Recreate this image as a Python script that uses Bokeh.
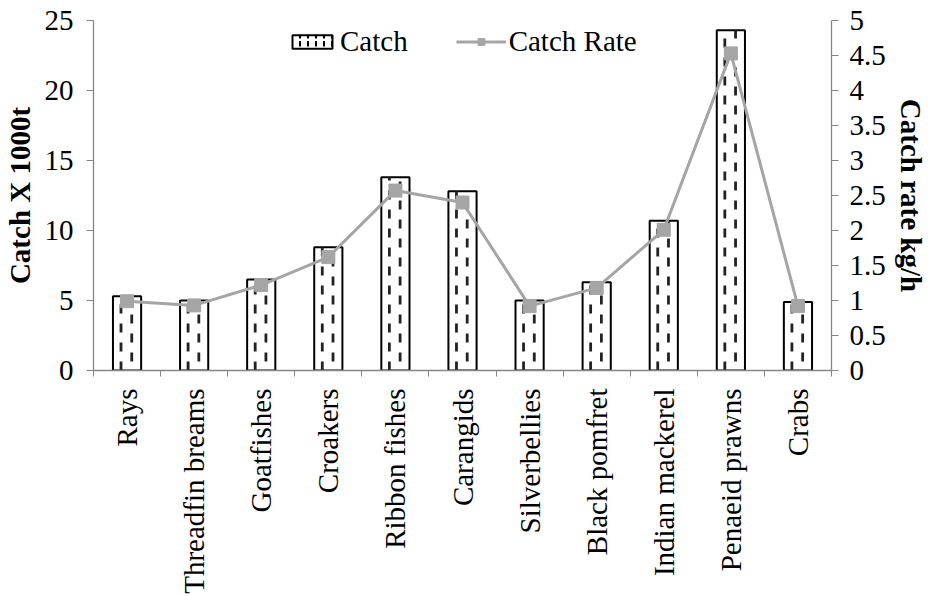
import math

from bokeh.embed import file_html
from bokeh.resources import INLINE
from bokeh.plotting import figure
from bokeh.models import (ColumnDataSource, Range1d, LinearAxis, FixedTicker,
                          Legend, LegendItem)

# Landings by species group
categories = ["Rays", "Threadfin breams", "Goatfishes", "Croakers", "Ribbon fishes",
              "Carangids", "Silverbellies", "Black pomfret", "Indian mackerel",
              "Penaeid prawns", "Crabs"]
catch_t1000 = [5.3, 5.0, 6.5, 8.8, 13.8, 12.8, 5.0, 6.3, 10.7, 24.3, 4.9]
catch_rate = [0.99, 0.93, 1.22, 1.62, 2.57, 2.40, 0.92, 1.18, 2.01, 4.53, 0.92]

left_ticks = [0, 5, 10, 15, 20, 25]
right_ticks = [0, 0.5, 1, 1.5, 2, 2.5, 3, 3.5, 4, 4.5, 5]

FONT = "Liberation Serif"
FONT_SIZE = "29px"
AXIS_GREY = "#868686"
LINE_GREY = "#A5A5A5"

idx = list(range(len(categories)))
src = ColumnDataSource(data=dict(
    x=idx,
    xl=[i - 0.09 for i in idx],
    xr=[i + 0.07 for i in idx],
    zero=[0] * len(idx),
    catch=catch_t1000,
    rate=catch_rate,
))

p = figure(width=933, height=596, output_backend="svg", toolbar_location=None,
           x_range=Range1d(-0.5, len(categories) - 0.5), y_range=Range1d(0, 25),
           min_border_left=93, min_border_right=102, min_border_top=20,
           min_border_bottom=225)
p.outline_line_color = None
p.xgrid.visible = False
p.ygrid.visible = False
p.background_fill_color = "white"
p.border_fill_color = "white"

p.extra_y_ranges = {"rate": Range1d(0, 5)}

# bars: white boxes with two staggered dashed strokes
p.vbar(x="x", top="catch", width=0.42, source=src, fill_color="white",
       line_color="black", line_width=2)
p.segment(x0="xl", y0="zero", x1="xl", y1="catch", source=src, line_color="#222222",
          line_width=2.8, line_dash="9 10")
p.segment(x0="xr", y0="zero", x1="xr", y1="catch", source=src, line_color="#222222",
          line_width=2.8, line_dash="9 10", line_dash_offset=10)

# hidden copy of the bars, used only for the legend swatch
swatch = p.vbar(x="x", top="catch", width=0.42, source=src, fill_color="white",
                line_color="black", line_width=2, hatch_pattern="vertical_dash",
                hatch_color="black", hatch_scale=8, hatch_weight=2)
swatch.visible = False

# catch rate on the secondary axis
rate_line = p.line(x="x", y="rate", source=src, y_range_name="rate",
                   line_color=LINE_GREY, line_width=3)
rate_pts = p.scatter(x="x", y="rate", source=src, y_range_name="rate",
                     marker="square", size=13, fill_color=LINE_GREY,
                     line_color=LINE_GREY)

# x axis: labels at category centres, ticks on category boundaries
xa = p.xaxis[0]
xa.ticker = FixedTicker(ticks=idx, minor_ticks=[i - 0.5 for i in range(len(idx) + 1)])
xa.major_label_overrides = {i: c for i, c in enumerate(categories)}
xa.major_label_orientation = math.pi / 2
xa.major_tick_out = 0
xa.major_tick_in = 0
xa.minor_tick_out = 6
xa.minor_tick_in = 0
xa.major_label_standoff = 12

ya = p.yaxis[0]
ya.ticker = FixedTicker(ticks=left_ticks, minor_ticks=[])
ya.axis_label = "Catch X 1000t"
ya.major_tick_out = 7
ya.major_tick_in = 0
ya.minor_tick_out = 0
ya.minor_tick_in = 0
ya.major_label_standoff = 13
ya.axis_label_standoff = 6

ra = LinearAxis(y_range_name="rate", ticker=FixedTicker(ticks=right_ticks, minor_ticks=[]),
                axis_label="Catch rate kg/h")
ra.major_tick_out = 7
ra.major_tick_in = 0
ra.minor_tick_out = 0
ra.minor_tick_in = 0
ra.major_label_standoff = 11
ra.axis_label_standoff = 6
p.add_layout(ra, "right")

for ax in (xa, ya, ra):
    ax.axis_line_color = AXIS_GREY
    ax.axis_line_width = 1.3
    ax.major_tick_line_color = AXIS_GREY
    ax.minor_tick_line_color = AXIS_GREY
    ax.major_label_text_font = FONT
    ax.major_label_text_font_size = FONT_SIZE
    ax.major_label_text_color = "black"
    ax.axis_label_text_font = FONT
    ax.axis_label_text_font_size = FONT_SIZE
    ax.axis_label_text_font_style = "bold"
    ax.axis_label_text_color = "black"

legend = Legend(items=[LegendItem(label="Catch", renderers=[swatch]),
                       LegendItem(label="Catch Rate", renderers=[rate_line, rate_pts])],
                orientation="horizontal", location=(194, 312),
                border_line_color=None, background_fill_alpha=0,
                inactive_fill_alpha=0,
                label_text_font=FONT, label_text_font_size=FONT_SIZE,
                label_text_color="black",
                glyph_width=50, glyph_height=17, spacing=48, padding=0, margin=0,
                label_standoff=3)
p.add_layout(legend)

open("out.html", "w").write(file_html(p, INLINE))
